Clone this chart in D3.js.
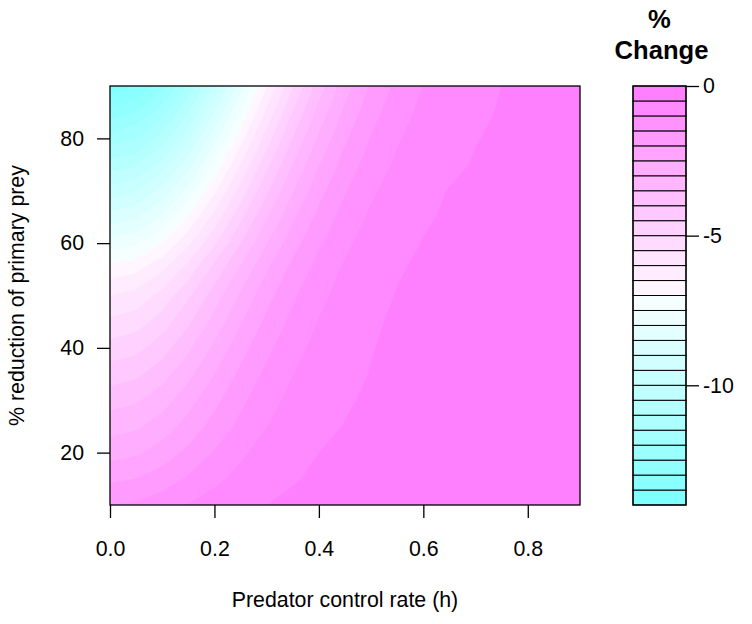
<!DOCTYPE html>
<html><head><meta charset="utf-8">
<script src="https://cdn.jsdelivr.net/npm/d3@7"></script>
<style>
body{margin:0;background:#fff}
svg{display:block}
text{font-family:"Liberation Sans",Arial,Helvetica,sans-serif;fill:#000}
</style>
</head><body>
<svg id="c" width="752" height="624"></svg>
<script>
// ---- data ----
const xGrid = [0,0.05,0.1,0.15,0.2,0.25,0.3,0.35,0.4,0.45,0.5,0.55,0.6,0.65,0.7,0.75,0.8,0.85,0.9];
const yGrid = [10,15,20,25,30,35,40,45,50,55,60,65,70,75,80,85,90];
// % change, one row per yGrid value (bottom to top), one entry per xGrid value
const zRows = [
 [-1.50,-1.42,-1.22,-0.98,-0.78,-0.62,-0.50,-0.45,-0.42,-0.41,-0.40,-0.40,-0.40,-0.40,-0.40,-0.40,-0.40,-0.40,-0.40],
 [-2.10,-2.00,-1.75,-1.43,-1.12,-0.85,-0.64,-0.52,-0.46,-0.42,-0.41,-0.40,-0.40,-0.40,-0.40,-0.40,-0.40,-0.40,-0.40],
 [-2.70,-2.58,-2.28,-1.88,-1.46,-1.09,-0.80,-0.61,-0.50,-0.45,-0.42,-0.41,-0.40,-0.40,-0.40,-0.40,-0.40,-0.40,-0.40],
 [-3.20,-3.08,-2.76,-2.31,-1.82,-1.37,-1.01,-0.75,-0.58,-0.49,-0.44,-0.42,-0.41,-0.40,-0.40,-0.40,-0.40,-0.40,-0.40],
 [-3.70,-3.57,-3.21,-2.70,-2.14,-1.61,-1.18,-0.87,-0.66,-0.53,-0.46,-0.43,-0.41,-0.40,-0.40,-0.40,-0.40,-0.40,-0.40],
 [-4.25,-4.11,-3.71,-3.14,-2.51,-1.90,-1.39,-1.01,-0.75,-0.58,-0.49,-0.44,-0.42,-0.41,-0.40,-0.40,-0.40,-0.40,-0.40],
 [-4.80,-4.65,-4.22,-3.59,-2.89,-2.21,-1.62,-1.17,-0.85,-0.65,-0.51,-0.45,-0.42,-0.41,-0.40,-0.40,-0.40,-0.40,-0.40],
 [-5.40,-5.24,-4.77,-4.09,-3.32,-2.56,-1.89,-1.36,-0.98,-0.72,-0.53,-0.47,-0.43,-0.41,-0.40,-0.40,-0.40,-0.40,-0.40],
 [-6.00,-5.82,-5.33,-4.60,-3.76,-2.92,-2.18,-1.57,-1.13,-0.80,-0.57,-0.49,-0.45,-0.42,-0.41,-0.40,-0.40,-0.40,-0.40],
 [-6.80,-6.61,-6.07,-5.28,-4.34,-3.40,-2.55,-1.85,-1.32,-0.93,-0.66,-0.52,-0.46,-0.43,-0.41,-0.40,-0.40,-0.40,-0.40],
 [-7.80,-7.59,-7.00,-6.11,-5.07,-4.01,-3.03,-2.21,-1.58,-1.10,-0.78,-0.58,-0.49,-0.45,-0.42,-0.41,-0.40,-0.40,-0.40],
 [-8.80,-8.57,-7.93,-6.97,-5.83,-4.64,-3.54,-2.60,-1.86,-1.30,-0.92,-0.67,-0.53,-0.47,-0.43,-0.42,-0.41,-0.40,-0.40],
 [-9.80,-9.56,-8.87,-7.84,-6.60,-5.31,-4.09,-3.03,-2.18,-1.54,-1.08,-0.78,-0.57,-0.49,-0.45,-0.43,-0.41,-0.40,-0.40],
 [-10.80,-10.55,-9.82,-8.72,-7.39,-5.99,-4.66,-3.49,-2.53,-1.80,-1.27,-0.92,-0.69,-0.56,-0.48,-0.44,-0.42,-0.41,-0.40],
 [-11.80,-11.53,-10.77,-9.61,-8.21,-6.71,-5.26,-3.98,-2.91,-2.08,-1.47,-1.05,-0.78,-0.61,-0.51,-0.46,-0.43,-0.41,-0.41],
 [-12.80,-12.52,-11.73,-10.52,-9.04,-7.45,-5.89,-4.49,-3.32,-2.39,-1.69,-1.20,-0.88,-0.67,-0.55,-0.48,-0.44,-0.42,-0.41],
 [-13.80,-13.51,-12.69,-11.43,-9.88,-8.20,-6.55,-5.04,-3.76,-2.73,-1.94,-1.38,-1.00,-0.75,-0.59,-0.50,-0.45,-0.43,-0.43]
];
const levelMin = -14, levelMax = 0, levelStep = 0.5;
const xTicks = [0, 0.2, 0.4, 0.6, 0.8];
const yTicks = [20, 40, 60, 80];
const keyTicks = [0, -5, -10];
const xTitle = "Predator control rate (h)";
const yTitle = "% reduction of primary prey";
const keyTitle = ["%", "Change"];

// ---- layout ----
const W = 752, H = 624;
const P = {l:110, r:580, t:86, b:505};
const K = {l:633, r:686, t:86, b:505};
const FS = 21.33, TFS = 25.6, TICK = 13;

const levels = d3.range(levelMin, levelMax + levelStep/2, levelStep);

function hsvHex(h, s){
  const lo = Math.round(255*(1-s));
  return h === 180 ? d3.rgb(lo,255,255).formatHex() : d3.rgb(255,lo,255).formatHex();
}
// R's cm.colors(n)
function cmColors(n){
  const even = n % 2 === 0, k = Math.floor(n/2);
  const l1 = k + 1 - (even?1:0), l2 = n - k + (even?1:0);
  const seq = (a,b,len) => len === 1 ? [a] : d3.range(len).map(i => a + (b-a)*i/(len-1));
  const out = [];
  if (l1 > 0) seq(0.5, even ? 0.5/k : 0, l1).forEach(s => out.push(hsvHex(180, s)));
  if (l2 > 1) seq(0, 0.5, l2).slice(1).forEach(s => out.push(hsvHex(300, s)));
  return out;
}
const cols = cmColors(levels.length - 1);

const svg = d3.select("#c");
svg.append("rect").attr("width", W).attr("height", H).attr("fill", "#fff");

const x = d3.scaleLinear().domain([xGrid[0], xGrid[xGrid.length-1]]).range([P.l, P.r]);
const y = d3.scaleLinear().domain([yGrid[0], yGrid[yGrid.length-1]]).range([P.b, P.t]);

svg.append("defs").append("clipPath").attr("id","plotclip")
  .append("rect").attr("x",P.l).attr("y",P.t).attr("width",P.r-P.l).attr("height",P.b-P.t);

// ---- filled contours ----
const nx = xGrid.length, ny = yGrid.length;
const values = zRows.flat();
const dxs = xGrid[1]-xGrid[0], dys = yGrid[1]-yGrid[0];
const proj = d3.geoTransform({
  point(px, py){ this.stream.point(x(xGrid[0] + (px-0.5)*dxs), y(yGrid[0] + (py-0.5)*dys)); }
});
const path = d3.geoPath(proj);
const bands = d3.contours().size([nx, ny]).thresholds(levels.slice(0, -1))(values);

const g = svg.append("g").attr("clip-path","url(#plotclip)");
g.append("rect").attr("x",P.l).attr("y",P.t).attr("width",P.r-P.l).attr("height",P.b-P.t)
  .attr("fill", cols[0]);
g.selectAll("path.band").data(bands).join("path")
  .attr("class","band")
  .attr("d", path)
  .attr("fill", (d,i) => cols[i])
  .attr("fill-rule","evenodd")
  .attr("stroke", (d,i) => cols[i])
  .attr("stroke-width", 0.4);

// plot box
svg.append("rect").attr("x",P.l).attr("y",P.t).attr("width",P.r-P.l).attr("height",P.b-P.t)
  .attr("fill","none").attr("stroke","#000").attr("stroke-width",1.3);

// ---- axes ----
function styleAxis(sel){
  sel.select(".domain").remove();
  sel.selectAll(".tick line").attr("stroke","#000").attr("stroke-width",1.3);
  sel.selectAll(".tick text").attr("font-size", FS).attr("font-family", '"Liberation Sans",Arial,sans-serif').attr("fill","#000");
}
svg.append("g").attr("transform",`translate(0,${P.b})`)
  .call(d3.axisBottom(x).tickValues(xTicks).tickFormat(d => d.toFixed(1)).tickSize(TICK).tickPadding(23))
  .call(styleAxis);
svg.append("g").attr("transform",`translate(${P.l},0)`)
  .call(d3.axisLeft(y).tickValues(yTicks).tickFormat(d => String(d)).tickSize(TICK).tickPadding(13))
  .call(styleAxis);

svg.append("text").attr("x", (P.l+P.r)/2).attr("y", 607).attr("text-anchor","middle")
  .attr("font-size", FS).text(xTitle);
svg.append("text").attr("transform", `translate(24,${(P.t+P.b)/2}) rotate(-90)`)
  .attr("text-anchor","middle").attr("font-size", FS).text(yTitle);

// ---- colour key ----
const ky = d3.scaleLinear().domain([levelMin, levelMax]).range([K.b, K.t]);
svg.append("g").selectAll("rect").data(d3.range(levels.length-1)).join("rect")
  .attr("x", K.l).attr("width", K.r-K.l)
  .attr("y", i => ky(levels[i+1])).attr("height", i => ky(levels[i]) - ky(levels[i+1]))
  .attr("fill", i => cols[i]).attr("stroke","#000").attr("stroke-width",1);
svg.append("rect").attr("x",K.l).attr("y",K.t).attr("width",K.r-K.l).attr("height",K.b-K.t)
  .attr("fill","none").attr("stroke","#000").attr("stroke-width",1.3);
svg.append("g").attr("transform",`translate(${K.r},0)`)
  .call(d3.axisRight(ky).tickValues(keyTicks).tickFormat(d => String(d)).tickSize(TICK).tickPadding(4))
  .call(styleAxis);

const kx = (K.l+K.r)/2;
svg.append("text").attr("x", kx).attr("y", 28).attr("text-anchor","middle")
  .attr("font-size", TFS).attr("font-weight","bold").text(keyTitle[0]);
svg.append("text").attr("x", kx+2).attr("y", 59).attr("text-anchor","middle")
  .attr("font-size", TFS).attr("font-weight","bold").text(keyTitle[1]);
</script>
</body></html>
